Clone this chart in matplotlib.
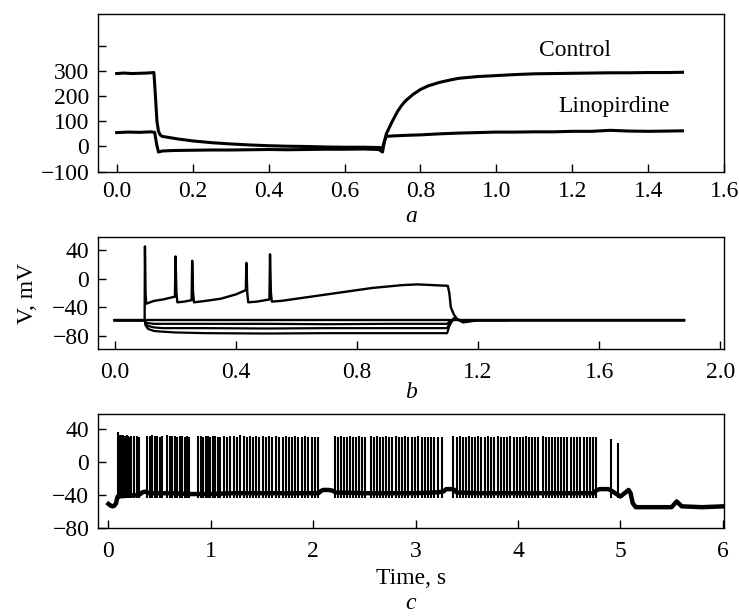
import matplotlib
matplotlib.use("Agg")
import matplotlib.pyplot as plt

plt.rcParams['font.family'] = ['Liberation Serif', 'DejaVu Serif']
plt.rcParams['axes.unicode_minus'] = True

# ---------------- Panel a: current traces ----------------
t_ctrl = [0.0, 0.02, 0.04, 0.06, 0.08, 0.098, 0.102, 0.106, 0.11, 0.115, 0.12, 0.14,
          0.16, 0.2, 0.25, 0.3, 0.35, 0.4, 0.45, 0.5, 0.55, 0.6, 0.65, 0.69, 0.70,
          0.705, 0.71, 0.72, 0.73, 0.74, 0.75, 0.76, 0.78, 0.8, 0.82, 0.85, 0.88,
          0.9, 0.95, 1.0, 1.05, 1.1, 1.15, 1.2, 1.25, 1.3, 1.35, 1.4, 1.45, 1.49]
v_ctrl = [289, 291, 289, 290, 291, 293, 200, 100, 60, 45, 40, 35,
          30, 22, 15, 10, 6, 3, 1, 0, -2, -3, -3, -4, -6,
          20, 50, 82, 112, 140, 162, 180, 206, 226, 240, 254, 264,
          270, 277, 281, 285, 288, 289, 290, 291, 292, 292, 293, 293, 294]

t_lino = [0.0, 0.03, 0.06, 0.09, 0.1, 0.105, 0.11, 0.12, 0.15, 0.2, 0.25, 0.3,
          0.35, 0.4, 0.45, 0.5, 0.55, 0.6, 0.65, 0.69, 0.70, 0.705, 0.71, 0.73,
          0.76, 0.8, 0.85, 0.9, 0.95, 1.0, 1.05, 1.1, 1.15, 1.2, 1.25, 1.3, 1.35,
          1.4, 1.45, 1.49]
v_lino = [55, 57, 56, 58, 56, 10, -22, -18, -16, -15, -14, -14,
          -13, -12, -13, -12, -11, -11, -10, -12, -22, 20, 40, 42,
          44, 46, 50, 53, 55, 57, 57, 58, 58, 60, 60, 64, 61,
          60, 61, 62]

a_yticks = [-100, 0, 100, 200, 300, 400]
a_yticklabels = ['\u2212100', '0', '100', '200', '300', '']
a_xticks = [0.0, 0.2, 0.4, 0.6, 0.8, 1.0, 1.2, 1.4, 1.6]

# ---------------- Panel b: voltage traces ----------------
t_spk = [0.0, 0.05, 0.099, 0.1, 0.102, 0.104, 0.11, 0.13, 0.16, 0.19, 0.199, 0.201,
         0.204, 0.207, 0.23, 0.254, 0.256, 0.259, 0.262, 0.3, 0.35, 0.4, 0.433,
         0.435, 0.438, 0.441, 0.47, 0.511, 0.513, 0.516, 0.519, 0.55, 0.6, 0.65,
         0.7, 0.75, 0.8, 0.85, 0.9, 0.95, 1.0, 1.05, 1.1, 1.105, 1.11, 1.12, 1.13,
         1.15, 1.2, 1.3]
v_spk = [-58, -58, -58, 45, -20, -35, -34, -31, -29, -26, -25, 31,
         -20, -33, -32, -30, 25, -20, -33, -31, -28, -22, -16,
         22, -20, -33, -32, -29, 34, -20, -32, -31, -28, -25,
         -22, -19, -16, -13, -11, -9, -8, -9, -10, -20, -40, -50, -56,
         -61, -58, -58]

t_rest = [0.0, 0.3, 0.6, 0.9, 1.2, 1.5, 1.88]
v_rest = [-58, -58, -58, -58, -58, -58, -58]

t_hyp = [0.0, 0.099, 0.102, 0.11, 0.13, 0.16, 0.2, 0.3, 0.5, 0.7, 0.9, 1.0,
         1.098, 1.105, 1.12, 1.15, 1.2, 1.3, 1.5, 1.7, 1.88]
v_hyp1 = [-58, -58, -61, -62, -63, -63, -63, -63, -63, -63.5, -63, -63,
          -63, -60, -57, -58, -58, -58, -58, -58, -58]
v_hyp2 = [-58, -58, -63, -66, -68, -69, -69, -69, -69.5, -69, -69, -69,
          -69, -63, -56, -59, -58, -58, -58, -58, -58]
v_hyp3 = [-58, -58, -65, -70, -73, -74, -75, -76, -76.5, -76, -76, -76,
          -76, -66, -55, -60, -58, -58, -58, -58, -58]

b_yticks = [-80, -40, 0, 40]
b_xticks = [0.0, 0.4, 0.8, 1.2, 1.6, 2.0]

# ---------------- Panel c: long spike train ----------------
t_base = [0.0, 0.02, 0.04, 0.06, 0.075, 0.085, 0.09, 0.2, 0.3, 0.33, 0.36, 0.4,
          0.6, 0.8, 1.0, 1.2, 1.5, 1.8, 2.05, 2.08, 2.1, 2.15, 2.19, 2.22, 2.5,
          2.8, 3.0, 3.2, 3.27, 3.3, 3.35, 3.38, 3.4, 3.6, 3.9, 4.2, 4.5, 4.74,
          4.77, 4.8, 4.88, 4.9, 4.95, 5.0, 5.04, 5.08, 5.1, 5.12, 5.15, 5.3,
          5.5, 5.55, 5.6, 5.8, 6.0]
v_base = [-51, -53, -54, -53, -50, -44, -42, -41, -40, -37, -36, -38,
          -38, -39, -39, -38, -38, -38, -38, -35, -34, -34, -35, -37, -38,
          -38, -38, -37, -36, -33, -33, -34, -37, -38, -38, -38, -38, -38,
          -34, -33, -33, -34, -38, -42, -38, -34, -38, -50, -55, -55,
          -55, -48, -54, -55, -54]

spike_times = [
    0.095, 0.105, 0.115, 0.125, 0.135, 0.145, 0.155, 0.165, 0.18, 0.195, 0.21,
    0.225, 0.25, 0.275, 0.30,
    0.38, 0.405, 0.43, 0.45, 0.475, 0.50, 0.525,
    0.575, 0.60, 0.625, 0.65, 0.67, 0.695, 0.72, 0.745, 0.77, 0.79,
    0.875, 0.90, 0.925, 0.95, 0.97, 0.995, 1.02, 1.045, 1.07, 1.09,
    1.13, 1.16, 1.19, 1.225, 1.255, 1.285, 1.32, 1.35, 1.38, 1.41, 1.445,
    1.475, 1.505, 1.54, 1.57, 1.60, 1.635, 1.665, 1.70, 1.73, 1.76, 1.795,
    1.825, 1.855, 1.89, 1.92, 1.95, 1.985, 2.015, 2.05,
    2.21, 2.24, 2.27, 2.30, 2.33, 2.36, 2.39, 2.42, 2.45, 2.48, 2.51, 2.56,
    2.59, 2.62, 2.65, 2.68, 2.71, 2.74, 2.77, 2.81, 2.84, 2.87, 2.90, 2.93,
    2.96, 2.99, 3.02, 3.06, 3.09, 3.12, 3.15, 3.18, 3.22, 3.26,
    3.37, 3.40, 3.43, 3.46, 3.49, 3.52, 3.55, 3.58, 3.61, 3.64, 3.68, 3.71,
    3.74, 3.77, 3.80, 3.83, 3.86, 3.89, 3.92, 3.96, 3.99, 4.02, 4.05, 4.08,
    4.11, 4.14, 4.17, 4.20, 4.24, 4.27, 4.30, 4.33, 4.36, 4.39, 4.42, 4.45,
    4.48, 4.52, 4.55, 4.58, 4.61, 4.64, 4.67, 4.70, 4.73, 4.76,
    4.91, 4.98]
spike_peaks = [
    36, 33, 32, 33, 32, 33, 32, 32, 33, 32, 31,
    32, 32, 32, 31,
    32, 32, 33, 32, 32, 31, 32,
    33, 32, 32, 32, 31, 32, 32, 31, 32, 31,
    32, 32, 31, 32, 32, 31, 32, 32, 31, 31,
    32, 31, 32, 32, 31, 33, 32, 31, 32, 31, 32,
    31, 32, 31, 32, 31, 32, 31, 31, 32, 31, 31,
    32, 31, 31, 32, 31, 31, 31, 31,
    32, 31, 32, 31, 31, 32, 31, 31, 32, 31, 31, 32,
    31, 32, 31, 31, 32, 31, 31, 32, 31, 31, 32, 31,
    31, 31, 32, 31, 31, 31, 31, 31, 31, 31,
    32, 31, 32, 31, 31, 32, 31, 31, 32, 31, 31, 32,
    31, 31, 32, 31, 31, 31, 32, 31, 31, 31, 31, 32,
    31, 31, 31, 31, 32, 31, 31, 31, 31, 31, 31, 31,
    31, 31, 31, 31, 31, 31, 31, 31, 31, 30,
    28, 23]
spike_trough = -44

c_yticks = [-80, -40, 0, 40]
c_xticks = [0, 1, 2, 3, 4, 5, 6]

# ---------------- figure ----------------
W, H = 739, 616
fig = plt.figure(figsize=(W / 100, H / 100), dpi=100)

def px_axes(left, top, right, bottom):
    return fig.add_axes([left / W, 1 - bottom / H, (right - left) / W, (bottom - top) / H])

FS = 17
ax_a = px_axes(97.7, 14, 724.3, 171.7)
ax_b = px_axes(97.7, 236.7, 724.3, 349.3)
ax_c = px_axes(97.7, 414, 724.3, 527.7)

for ax, xpad in ((ax_a, 7.0), (ax_b, 9.5), (ax_c, 9.5)):
    for s in ax.spines.values():
        s.set_linewidth(1.0)
    ax.tick_params(direction='in', length=5.5, width=1.0, labelsize=FS,
                   top=False, right=False)
    ax.tick_params(axis='x', pad=xpad)
    ax.tick_params(axis='y', pad=6)

# panel a
ax_a.plot(t_ctrl, v_ctrl, color='black', lw=2.2)
ax_a.plot(t_lino, v_lino, color='black', lw=2.2)
ax_a.set_xlim(-0.05, 1.6)
ax_a.set_ylim(-100, 525)
ax_a.set_yticks(a_yticks)
ax_a.set_yticklabels(a_yticklabels)
ax_a.set_xticks(a_xticks)
ax_a.set_xticklabels([f'{v:.1f}' for v in a_xticks])
ax_a.text(1.207, 382, 'Control', fontsize=FS, ha='center', va='center')
ax_a.text(1.31, 158, 'Linopirdine', fontsize=FS, ha='center', va='center')

# panel b
ax_b.plot(t_rest, v_rest, color='black', lw=1.7)
ax_b.plot(t_hyp, v_hyp1, color='black', lw=1.6)
ax_b.plot(t_hyp, v_hyp2, color='black', lw=1.6)
ax_b.plot(t_hyp, v_hyp3, color='black', lw=1.6)
ax_b.plot(t_spk, v_spk, color='black', lw=1.7)
ax_b.set_xlim(-0.056, 2.013)
ax_b.set_ylim(-98.5, 58.5)
ax_b.set_yticks(b_yticks)
ax_b.set_yticklabels([str(v).replace('-', '\u2212') for v in b_yticks])
ax_b.set_xticks(b_xticks)
ax_b.set_xticklabels([f'{v:.1f}' for v in b_xticks])
ax_b.set_ylabel('V, mV', fontsize=FS)
ax_b.yaxis.set_label_coords(-0.095, 0.5)

# panel c
ax_c.plot(t_base, v_base, color='black', lw=3.2)
ax_c.vlines(spike_times, spike_trough, spike_peaks, color='black', lw=1.5)
ax_c.set_xlim(-0.105, 6.015)
ax_c.set_ylim(-80, 58.5)
ax_c.set_yticks(c_yticks)
ax_c.set_yticklabels([str(v).replace('-', '\u2212') for v in c_yticks])
ax_c.set_xticks(c_xticks)
ax_c.set_xticklabels([str(v) for v in c_xticks])

cx = (97.7 + 724.3) / 2 / W
fig.text(cx, 1 - 222 / H, 'a', fontsize=FS, style='italic', ha='center', va='baseline')
fig.text(cx, 1 - 398 / H, 'b', fontsize=FS, style='italic', ha='center', va='baseline')
fig.text(cx, 1 - 584 / H, 'Time, s', fontsize=FS, ha='center', va='baseline')
fig.text(cx, 1 - 609 / H, 'c', fontsize=FS, style='italic', ha='center', va='baseline')

fig.savefig('out.png', dpi=100)
